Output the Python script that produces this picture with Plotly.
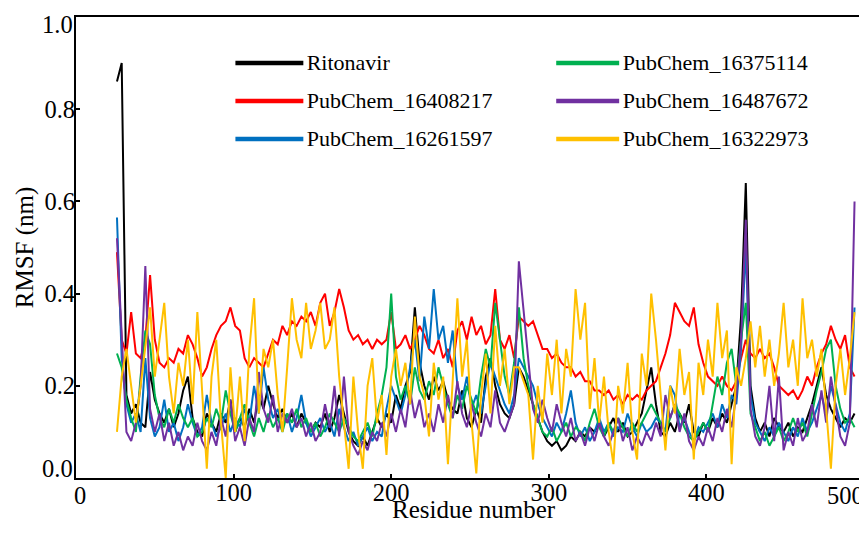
import plotly.graph_objects as go

residues = list(range(26, 495, 3))

ritonavir = [
    0.86,0.90,0.18,0.14,0.16,0.12,0.11,0.23,0.17,0.14,
    0.12,0.15,0.11,0.14,0.19,0.22,0.13,0.10,0.09,0.14,
    0.12,0.10,0.14,0.12,0.17,0.10,0.13,0.11,0.15,0.12,
    0.18,0.15,0.20,0.16,0.13,0.15,0.12,0.14,0.11,0.14,
    0.12,0.10,0.12,0.11,0.14,0.10,0.13,0.18,0.14,0.10,
    0.08,0.07,0.09,0.07,0.10,0.13,0.11,0.14,0.12,0.18,
    0.15,0.20,0.23,0.37,0.25,0.20,0.17,0.22,0.19,0.21,
    0.17,0.15,0.14,0.19,0.13,0.11,0.15,0.12,0.22,0.26,
    0.20,0.16,0.14,0.13,0.16,0.24,0.22,0.19,0.16,0.13,
    0.10,0.08,0.07,0.08,0.06,0.07,0.09,0.08,0.10,0.09,
    0.11,0.10,0.12,0.09,0.11,0.13,0.10,0.12,0.09,0.10,
    0.12,0.14,0.19,0.24,0.16,0.10,0.09,0.12,0.10,0.14,
    0.12,0.16,0.10,0.09,0.12,0.10,0.13,0.11,0.14,0.12,
    0.16,0.20,0.35,0.64,0.20,0.13,0.10,0.12,0.09,0.13,
    0.11,0.10,0.12,0.09,0.11,0.10,0.13,0.16,0.20,0.24,
    0.18,0.15,0.13,0.11,0.13,0.12,0.14]

pc_16408217 = [
    0.49,0.30,0.27,0.36,0.27,0.26,0.30,0.44,0.30,0.25,
    0.24,0.26,0.25,0.28,0.27,0.31,0.29,0.26,0.22,0.24,
    0.28,0.31,0.33,0.34,0.37,0.33,0.32,0.26,0.24,0.26,
    0.25,0.24,0.27,0.30,0.29,0.33,0.31,0.34,0.33,0.35,
    0.34,0.36,0.33,0.38,0.40,0.33,0.36,0.41,0.37,0.32,
    0.30,0.31,0.29,0.30,0.28,0.30,0.29,0.30,0.36,0.28,
    0.29,0.31,0.28,0.30,0.33,0.31,0.28,0.27,0.30,0.26,
    0.28,0.24,0.32,0.34,0.30,0.35,0.31,0.33,0.29,0.31,
    0.41,0.30,0.28,0.31,0.26,0.35,0.34,0.33,0.34,0.31,
    0.28,0.28,0.26,0.27,0.25,0.24,0.24,0.22,0.23,0.21,
    0.21,0.19,0.19,0.18,0.19,0.17,0.18,0.16,0.18,0.17,
    0.18,0.17,0.19,0.20,0.21,0.24,0.27,0.31,0.38,0.36,
    0.34,0.33,0.37,0.29,0.25,0.22,0.21,0.20,0.22,0.20,
    0.19,0.21,0.26,0.30,0.27,0.26,0.28,0.26,0.27,0.24,
    0.20,0.19,0.18,0.19,0.17,0.19,0.22,0.20,0.24,0.27,
    0.29,0.33,0.30,0.28,0.31,0.24,0.22]

pc_16261597 = [
    0.565,0.26,0.16,0.12,0.14,0.10,0.26,0.13,0.09,0.11,
    0.17,0.10,0.12,0.08,0.11,0.16,0.12,0.09,0.11,0.18,
    0.12,0.09,0.11,0.14,0.10,0.13,0.11,0.15,0.12,0.20,
    0.14,0.24,0.17,0.13,0.15,0.11,0.14,0.10,0.13,0.18,
    0.12,0.09,0.11,0.13,0.10,0.12,0.09,0.15,0.11,0.08,
    0.10,0.07,0.09,0.11,0.08,0.10,0.09,0.15,0.20,0.17,
    0.14,0.18,0.24,0.30,0.21,0.35,0.28,0.41,0.30,0.33,
    0.25,0.32,0.20,0.17,0.22,0.15,0.18,0.14,0.20,0.25,
    0.22,0.19,0.16,0.14,0.18,0.26,0.24,0.22,0.20,0.16,
    0.13,0.11,0.09,0.12,0.10,0.14,0.19,0.12,0.09,0.11,
    0.08,0.10,0.13,0.10,0.12,0.09,0.11,0.10,0.14,0.11,
    0.09,0.12,0.10,0.11,0.13,0.12,0.10,0.20,0.18,0.11,
    0.13,0.10,0.08,0.11,0.10,0.12,0.14,0.11,0.16,0.13,
    0.18,0.16,0.28,0.50,0.18,0.12,0.10,0.08,0.11,0.09,
    0.12,0.10,0.08,0.11,0.09,0.13,0.10,0.12,0.15,0.18,
    0.14,0.20,0.16,0.12,0.10,0.14,0.37]

pc_16375114 = [
    0.27,0.24,0.17,0.13,0.10,0.22,0.32,0.29,0.18,0.13,
    0.11,0.15,0.12,0.16,0.13,0.11,0.13,0.09,0.10,0.13,
    0.11,0.15,0.12,0.19,0.14,0.10,0.13,0.16,0.12,0.09,
    0.13,0.10,0.14,0.11,0.13,0.10,0.14,0.12,0.15,0.11,
    0.13,0.10,0.12,0.09,0.11,0.14,0.12,0.10,0.13,0.11,
    0.09,0.08,0.10,0.12,0.09,0.14,0.18,0.24,0.40,0.22,
    0.17,0.20,0.16,0.24,0.19,0.17,0.21,0.18,0.24,0.20,
    0.16,0.13,0.18,0.15,0.20,0.17,0.14,0.22,0.28,0.24,
    0.38,0.30,0.22,0.18,0.25,0.37,0.26,0.20,0.16,0.13,
    0.10,0.09,0.11,0.08,0.10,0.12,0.09,0.11,0.10,0.08,
    0.12,0.15,0.11,0.09,0.12,0.10,0.13,0.11,0.09,0.12,
    0.10,0.12,0.14,0.16,0.14,0.12,0.10,0.13,0.16,0.14,
    0.11,0.09,0.08,0.10,0.12,0.10,0.16,0.22,0.18,0.25,
    0.28,0.20,0.30,0.38,0.14,0.11,0.08,0.10,0.07,0.09,
    0.11,0.08,0.10,0.13,0.10,0.12,0.09,0.14,0.19,0.23,
    0.28,0.30,0.20,0.15,0.12,0.13,0.11]

pc_16487672 = [
    0.52,0.30,0.10,0.08,0.12,0.20,0.46,0.15,0.10,0.14,
    0.08,0.12,0.07,0.10,0.06,0.09,0.07,0.12,0.08,0.06,
    0.10,0.07,0.13,0.09,0.17,0.08,0.11,0.07,0.13,0.10,
    0.23,0.15,0.12,0.18,0.10,0.14,0.12,0.15,0.11,0.13,
    0.09,0.12,0.08,0.10,0.16,0.11,0.20,0.09,0.22,0.10,
    0.07,0.05,0.08,0.06,0.10,0.08,0.12,0.09,0.14,0.10,
    0.15,0.11,0.19,0.13,0.17,0.11,0.14,0.10,0.16,0.12,
    0.18,0.13,0.21,0.14,0.11,0.16,0.12,0.09,0.14,0.11,
    0.19,0.12,0.10,0.13,0.16,0.47,0.36,0.25,0.15,0.12,
    0.17,0.13,0.10,0.16,0.12,0.09,0.13,0.08,0.10,0.07,
    0.11,0.08,0.12,0.09,0.07,0.10,0.13,0.08,0.11,0.06,
    0.09,0.07,0.10,0.08,0.12,0.09,0.18,0.13,0.16,0.10,
    0.14,0.08,0.06,0.09,0.07,0.11,0.08,0.13,0.10,0.15,
    0.11,0.18,0.30,0.56,0.15,0.09,0.07,0.11,0.20,0.08,
    0.22,0.06,0.10,0.07,0.13,0.08,0.10,0.16,0.11,0.19,
    0.12,0.22,0.15,0.09,0.07,0.12,0.60]

pc_16322973 = [
    0.10,0.22,0.28,0.20,0.12,0.20,0.28,0.37,0.22,0.30,
    0.38,0.22,0.14,0.25,0.20,0.30,0.16,0.36,0.20,0.02,
    0.22,0.30,0.12,0.00,0.24,0.10,0.22,0.08,0.28,0.39,
    0.14,0.28,0.24,0.30,0.18,0.10,0.24,0.39,0.30,0.26,
    0.38,0.28,0.32,0.38,0.28,0.30,0.37,0.22,0.12,0.02,
    0.22,0.10,0.02,0.20,0.26,0.12,0.18,0.05,0.22,0.28,
    0.20,0.25,0.16,0.35,0.22,0.18,0.09,0.25,0.17,0.22,
    0.03,0.20,0.39,0.22,0.30,0.12,0.01,0.18,0.27,0.14,
    0.33,0.20,0.28,0.16,0.24,0.24,0.21,0.18,0.04,0.20,
    0.12,0.27,0.18,0.30,0.14,0.28,0.22,0.41,0.30,0.38,
    0.15,0.26,0.12,0.22,0.10,0.03,0.20,0.14,0.25,0.10,
    0.04,0.27,0.20,0.40,0.30,0.18,0.06,0.20,0.14,0.28,
    0.18,0.23,0.04,0.25,0.18,0.30,0.22,0.38,0.26,0.32,
    0.03,0.24,0.20,0.26,0.34,0.24,0.33,0.22,0.30,0.20,
    0.27,0.38,0.24,0.30,0.20,0.39,0.26,0.30,0.22,0.28,
    0.14,0.02,0.20,0.28,0.18,0.26,0.36]

names = ["Ritonavir", "PubChem_16408217", "PubChem_16261597",
         "PubChem_16375114", "PubChem_16487672", "PubChem_16322973"]
series = [ritonavir, pc_16408217, pc_16261597, pc_16375114, pc_16487672, pc_16322973]
colors = ["#000000", "#FF0000", "#0070C0", "#00B050", "#7030A0", "#FFC000"]
legend_ids = ["legend", "legend", "legend", "legend2", "legend2", "legend2"]

# axis tick labels: inner ones are axis ticks, end ones are placed inside the frame
x_ticks = [100, 200, 300, 400]
x_end_labels = [(0, "0"), (500, "500")]
y_ticks = [0.2, 0.4, 0.6, 0.8]
y_end_labels = [(0.0, "0.0"), (1.0, "1.0")]

FONT = "Liberation Serif"
TICKFONT = dict(family=FONT, size=24.5, color="black")

fig = go.Figure()
for name, vals, col in zip(names, series, colors):
    fig.add_trace(go.Scatter(x=residues, y=vals, mode="lines", name=name,
                             line=dict(color=col, width=2), showlegend=False))
# legend entries: text from the legend, long sample lines drawn as shapes below
for name, col, lg in zip(names, colors, legend_ids):
    fig.add_trace(go.Scatter(x=[None], y=[None], mode="lines", name=name,
                             line=dict(color="rgba(0,0,0,0)", width=4), legend=lg,
                             legendgroup=name, showlegend=True))

legend_common = dict(font=dict(family=FONT, size=22, color="black"),
                     bgcolor="rgba(0,0,0,0)", tracegroupgap=6,
                     xanchor="left", yanchor="top", orientation="v")

# legend sample-line geometry (paper coordinates)
legend_cols = {"legend": (0.2023, 0.2885), "legend2": (0.6094, 0.6893)}
legend_rows = [0.9002, 0.8178, 0.7354]
shapes = []
row_counter = {"legend": 0, "legend2": 0}
for col, lg in zip(colors, legend_ids):
    x0, x1 = legend_cols[lg]
    yy = legend_rows[row_counter[lg]]
    row_counter[lg] += 1
    shapes.append(dict(type="line", xref="paper", yref="paper",
                       x0=x0, x1=x1, y0=yy, y1=yy,
                       line=dict(color=col, width=4.5)))

annotations = []
for xv, txt in x_end_labels:
    annotations.append(dict(
        text=txt, x=xv, y=0, xref="x", yref="paper",
        xanchor="left" if xv == 0 else "right", yanchor="top",
        xshift=-4 if xv == 0 else 2, yshift=-2,
        showarrow=False, font=TICKFONT))
for yv, txt in y_end_labels:
    annotations.append(dict(
        text=txt, x=0, y=yv, xref="paper", yref="y",
        xanchor="right", yanchor="bottom" if yv == 0 else "top",
        xshift=-1, yshift=-6 if yv == 0 else 8,
        showarrow=False, font=TICKFONT))
annotations.append(dict(
    text="Residue number", x=0.5, y=0, xref="paper", yref="paper",
    xanchor="center", yanchor="top", xshift=4, yshift=-16,
    showarrow=False, font=dict(family=FONT, size=25, color="black")))

# page body has an 8px margin, so the figure is sized to end at the window edge
fig.update_layout(
    width=859, height=525,
    margin=dict(l=68, r=3, t=9, b=55, autoexpand=False),
    paper_bgcolor="white", plot_bgcolor="white",
    font=dict(family=FONT, color="black"),
    legend=dict(x=0.242, y=0.948, **legend_common),
    legend2=dict(x=0.643, y=0.948, **legend_common),
    xaxis=dict(range=[0, 500], tickvals=x_ticks,
               ticks="inside", ticklen=4, tickwidth=2, tickcolor="black",
               showline=True, linewidth=2, linecolor="black", mirror=True,
               showgrid=False, zeroline=False, automargin=False,
               ticklabeloverflow="allow", ticklabelstandoff=-8,
               tickfont=TICKFONT),
    yaxis=dict(range=[0, 1.0], tickvals=y_ticks, tickformat=".1f",
               ticks="inside", ticklen=4, tickwidth=2, tickcolor="black",
               showline=True, linewidth=2, linecolor="black", mirror=True,
               showgrid=False, zeroline=False, automargin=False,
               ticklabeloverflow="allow", ticklabelstandoff=-6,
               tickfont=TICKFONT,
               title=dict(text="RMSF (nm)", standoff=4,
                          font=dict(family=FONT, size=25, color="black"))),
    shapes=shapes,
    annotations=annotations,
)

fig.write_html("out.html")
